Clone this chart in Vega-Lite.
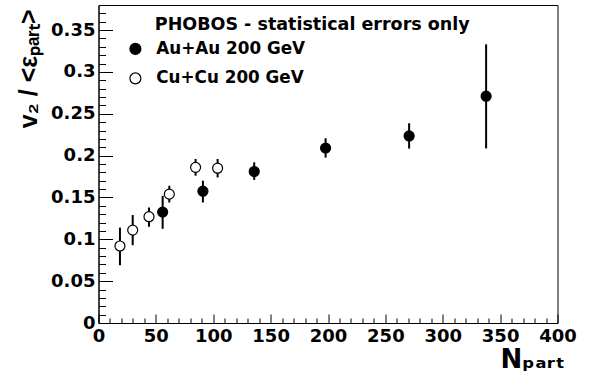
{
  "$schema": "https://vega.github.io/schema/vega-lite/v6.json",
  "width": 459,
  "height": 318,
  "autosize": {"type": "none"},
  "padding": {"left": 98.5, "top": 5, "right": 33.5, "bottom": 57},
  "background": "white",
  "config": {
    "view": {"stroke": "black", "strokeWidth": 1},
    "font": "DejaVu Sans",
    "axis": {
      "grid": false,
      "domainColor": "black",
      "domainWidth": 1,
      "tickColor": "black",
      "tickWidth": 1,
      "labelFont": "DejaVu Sans",
      "labelFontWeight": "bold",
      "labelFontSize": 18,
      "labelColor": "black",
      "titleColor": "black",
      "titleFont": "DejaVu Sans",
      "titleFontWeight": "bold",
      "titleFontSize": 26
    }
  },
  "data": {
    "values": [
      {"sys": "Au+Au 200 GeV", "N": 55.9, "v": 0.1325, "lo": 0.1125, "hi": 0.152},
      {"sys": "Au+Au 200 GeV", "N": 91, "v": 0.1575, "lo": 0.144, "hi": 0.170},
      {"sys": "Au+Au 200 GeV", "N": 135.7, "v": 0.181, "lo": 0.171, "hi": 0.192},
      {"sys": "Au+Au 200 GeV", "N": 197.9, "v": 0.209, "lo": 0.1976, "hi": 0.2208},
      {"sys": "Au+Au 200 GeV", "N": 270.7, "v": 0.2235, "lo": 0.2084, "hi": 0.2387},
      {"sys": "Au+Au 200 GeV", "N": 337.8, "v": 0.271, "lo": 0.2086, "hi": 0.333},
      {"sys": "Cu+Cu 200 GeV", "N": 18.7, "v": 0.092, "lo": 0.069, "hi": 0.114},
      {"sys": "Cu+Cu 200 GeV", "N": 29.8, "v": 0.111, "lo": 0.093, "hi": 0.129},
      {"sys": "Cu+Cu 200 GeV", "N": 44, "v": 0.127, "lo": 0.115, "hi": 0.138},
      {"sys": "Cu+Cu 200 GeV", "N": 61.7, "v": 0.154, "lo": 0.144, "hi": 0.164},
      {"sys": "Cu+Cu 200 GeV", "N": 84.6, "v": 0.186, "lo": 0.176, "hi": 0.196},
      {"sys": "Cu+Cu 200 GeV", "N": 103.8, "v": 0.185, "lo": 0.174, "hi": 0.196}
    ]
  },
  "layer": [
    {
      "mark": {"type": "rule", "strokeWidth": 2, "color": "black"},
      "encoding": {
        "x": {
          "field": "N", "type": "quantitative",
          "scale": {"domain": [0, 400], "nice": false, "zero": false},
          "axis": {
            "orient": "bottom",
            "values": [0, 50, 100, 150, 200, 250, 300, 350, 400],
            "format": "d",
            "tickSize": -9,
            "labelPadding": 13,
            "labelFlush": false,
            "labelOverlap": false,
            "title": "Nₚₐᵣₜ",
            "titleAnchor": null,
            "titleAlign": "right",
            "titleBaseline": "alphabetic",
            "titleX": 466,
            "titleY": 44.5
          }
        },
        "y": {
          "field": "lo", "type": "quantitative",
          "scale": {"domain": [0, 0.38], "nice": false, "zero": false},
          "axis": {
            "orient": "left",
            "values": [0, 0.05, 0.1, 0.15, 0.2, 0.25, 0.3, 0.35],
            "format": "~g",
            "tickSize": -14,
            "labelPadding": 17.5,
            "labelFlush": false,
            "labelOverlap": false,
            "title": "v₂ / <εₚₐᵣₜ>",
            "titleFont": "Liberation Sans",
            "titleFontSize": 25,
            "titleAnchor": null,
            "titleAngle": -90,
            "titleAlign": "right",
            "titleBaseline": "alphabetic",
            "titleX": -62,
            "titleY": 4
          }
        },
        "y2": {"field": "hi"}
      }
    },
    {
      "mark": {"type": "point", "shape": "circle", "filled": true, "size": 100, "stroke": "black", "strokeWidth": 1.2, "opacity": 1},
      "encoding": {
        "x": {
          "field": "N", "type": "quantitative",
          "axis": {
            "orient": "bottom",
            "values": [10, 20, 30, 40, 60, 70, 80, 90, 110, 120, 130, 140, 160, 170, 180, 190, 210, 220, 230, 240, 260, 270, 280, 290, 310, 320, 330, 340, 360, 370, 380, 390],
            "tickSize": -5,
            "labels": false,
            "domain": false,
            "title": null
          }
        },
        "y": {
          "field": "v", "type": "quantitative",
          "axis": {
            "orient": "left",
            "values": [0.01, 0.02, 0.03, 0.04, 0.06, 0.07, 0.08, 0.09, 0.11, 0.12, 0.13, 0.14, 0.16, 0.17, 0.18, 0.19, 0.21, 0.22, 0.23, 0.24, 0.26, 0.27, 0.28, 0.29, 0.31, 0.32, 0.33, 0.34, 0.36, 0.37],
            "tickSize": -7,
            "labels": false,
            "domain": false,
            "title": null
          }
        },
        "fill": {
          "field": "sys", "type": "nominal",
          "scale": {"domain": ["Au+Au 200 GeV", "Cu+Cu 200 GeV"], "range": ["black", "white"]},
          "legend": {
            "orient": "none",
            "legendX": 28.5,
            "legendY": 11,
            "padding": 0,
            "title": "\u200b\u00a0\u00a0\u00a0\u00a0\u200a\u200aPHOBOS - statistical errors only",
            "titleFont": "DejaVu Sans",
            "titleFontSize": 17.5,
            "titleFontWeight": "bold",
            "titleColor": "black",
            "titleLimit": 600,
            "titlePadding": 7,
            "labelFont": "DejaVu Sans",
            "labelFontSize": 16.8,
            "labelFontWeight": "bold",
            "labelColor": "black",
            "labelLimit": 400,
            "labelOffset": 12.5,
            "symbolType": "circle",
            "symbolSize": 120,
            "symbolStrokeColor": "black",
            "symbolStrokeWidth": 1.2,
            "rowPadding": 11.5
          }
        }
      }
    }
  ],
  "resolve": {"axis": {"x": "independent", "y": "independent"}}
}
